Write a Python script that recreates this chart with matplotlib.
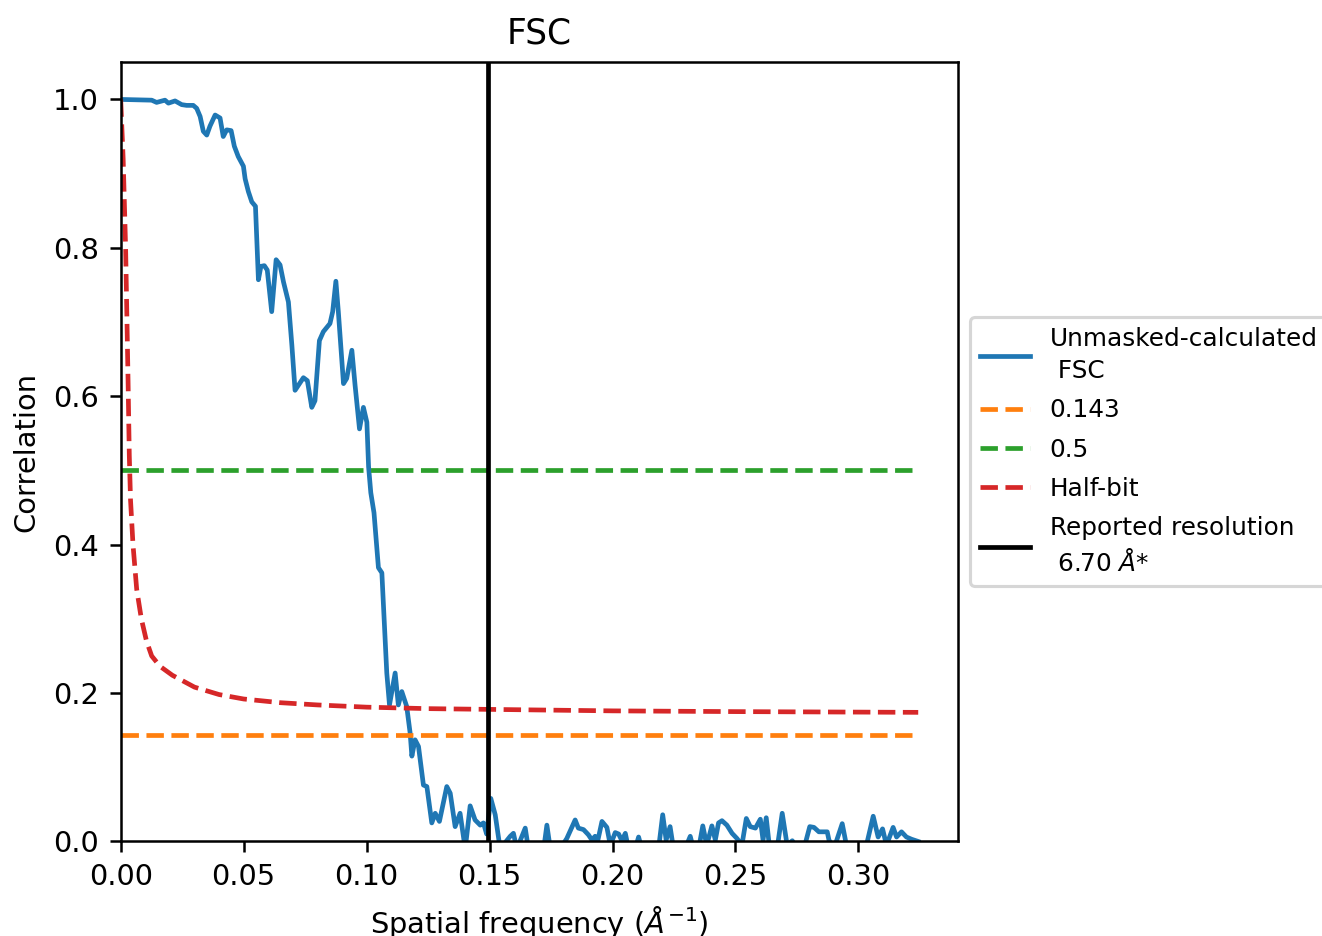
import matplotlib
matplotlib.use("Agg")
import matplotlib.pyplot as plt

# ---- data ----
freq = [0.0, 0.0126, 0.0146, 0.018, 0.0194, 0.0221, 0.0248, 0.0268, 0.0295, 0.0309,
        0.0323, 0.0336, 0.035, 0.0363, 0.0384, 0.0404, 0.0417, 0.0431, 0.0449, 0.0462,
        0.0478, 0.0499, 0.0506, 0.0519, 0.0533, 0.0548, 0.0560, 0.0570, 0.0584, 0.0596,
        0.0614, 0.0632, 0.0648, 0.0662, 0.0682, 0.0696, 0.0709, 0.0723, 0.0743, 0.0759,
        0.0777, 0.0790, 0.0808, 0.0824, 0.0851, 0.0862, 0.0875, 0.0885, 0.0906, 0.0919,
        0.0940, 0.0953, 0.0971, 0.0987, 0.1001, 0.1008, 0.1017, 0.1030, 0.1048, 0.1062,
        0.1082, 0.1093, 0.1116, 0.1129, 0.1143, 0.1163, 0.1177, 0.1184, 0.1197, 0.1211,
        0.1231, 0.1245, 0.1265, 0.1279, 0.1296, 0.1326, 0.1340, 0.1360, 0.1380, 0.1401,
        0.1421, 0.1441, 0.1462, 0.1475, 0.1488, 0.1505, 0.1523, 0.1543, 0.1584, 0.1597,
        0.1611, 0.1645, 0.1658, 0.1720, 0.1733, 0.1747, 0.1787, 0.1814, 0.1848, 0.1861,
        0.1882, 0.1902, 0.1916, 0.1929, 0.1936, 0.1957, 0.1977, 0.1991, 0.2011, 0.2025,
        0.2038, 0.2052, 0.2065, 0.2092, 0.2106, 0.2119, 0.2187, 0.2204, 0.2218, 0.2234,
        0.2248, 0.2295, 0.2316, 0.2329, 0.2350, 0.2367, 0.2383, 0.2404, 0.2418, 0.2431,
        0.2445, 0.2465, 0.2486, 0.2506, 0.2526, 0.2544, 0.2560, 0.2581, 0.2601, 0.2612,
        0.2625, 0.2639, 0.2669, 0.2690, 0.2710, 0.2731, 0.2751, 0.2778, 0.2802, 0.2819,
        0.2839, 0.2873, 0.2880, 0.2900, 0.2934, 0.2954, 0.3029, 0.3060, 0.3080, 0.3098,
        0.3114, 0.3141, 0.3155, 0.3175, 0.3195, 0.3216, 0.3243]

fsc = [1.0, 0.999, 0.996, 0.999, 0.995, 0.998, 0.993, 0.992, 0.992, 0.988,
       0.977, 0.957, 0.952, 0.964, 0.979, 0.975, 0.950, 0.959, 0.958, 0.937,
       0.923, 0.910, 0.893, 0.876, 0.862, 0.856, 0.757, 0.775, 0.776, 0.770,
       0.714, 0.784, 0.777, 0.754, 0.727, 0.669, 0.608, 0.615, 0.625, 0.621,
       0.585, 0.594, 0.675, 0.687, 0.698, 0.714, 0.755, 0.714, 0.617, 0.624,
       0.662, 0.615, 0.556, 0.585, 0.565, 0.505, 0.470, 0.443, 0.369, 0.362,
       0.227, 0.184, 0.227, 0.184, 0.202, 0.182, 0.146, 0.115, 0.137, 0.128,
       0.076, 0.074, 0.025, 0.038, 0.027, 0.074, 0.065, 0.020, 0.038, -0.010,
       0.048, 0.029, 0.022, 0.025, 0.010, 0.058, 0.036, -0.010, 0.007, 0.011,
       -0.010, 0.018, -0.010, -0.010, 0.022, -0.010, -0.010, 0.004, 0.029, 0.018,
       0.016, 0.009, 0.002, 0.007, -0.005, 0.027, 0.019, -0.005, 0.012, 0.010,
       0.001, 0.011, -0.010, -0.010, 0.006, -0.010, -0.010, 0.036, 0.002, 0.020,
       -0.010, -0.010, 0.007, -0.010, -0.010, 0.021, -0.005, 0.021, 0.002, 0.025,
       0.028, 0.022, 0.011, 0.004, -0.005, 0.031, 0.020, 0.018, 0.030, 0.002,
       0.032, -0.010, -0.010, 0.038, -0.005, 0.001, -0.010, -0.010, 0.020, 0.019,
       0.013, 0.013, 0.002, -0.010, 0.024, -0.010, -0.010, 0.034, 0.006, 0.017,
       -0.005, 0.019, 0.006, 0.013, 0.006, 0.003, 0.0]

halfbit_freq = [0.0, 0.001, 0.002, 0.003, 0.0035, 0.004, 0.005, 0.0065, 0.0084, 0.0105,
                0.0126, 0.016, 0.021, 0.03, 0.04, 0.05, 0.065, 0.08, 0.10, 0.125,
                0.15, 0.20, 0.25, 0.3243]
halfbit = [1.0, 0.92, 0.80, 0.62, 0.52, 0.46, 0.40, 0.34, 0.30, 0.27,
           0.25, 0.236, 0.224, 0.208, 0.198, 0.192, 0.187, 0.184, 0.181, 0.179,
           0.178, 0.176, 0.175, 0.174]

threshold_143 = 0.143
threshold_05 = 0.5
resolution = 6.70  # Angstrom

labels = ["Unmasked-calculated\n FSC", "0.143", "0.5", "Half-bit",
          "Reported resolution\n %.2f $\\AA$*" % resolution]

# ---- figure ----
plt.rcParams["font.size"] = 9.2
dpi = 226
fig = plt.figure(figsize=(1322 / dpi, 936 / dpi), dpi=dpi)
ax = fig.add_axes([0.0913, 0.101, 0.6334, 0.8328])

ax.plot(freq, fsc, color="C0", label=labels[0])
ax.plot([freq[0], freq[-1]], [threshold_143, threshold_143], "--", color="C1", label=labels[1])
ax.plot([freq[0], freq[-1]], [threshold_05, threshold_05], "--", color="C2", label=labels[2])
ax.plot(halfbit_freq, halfbit, "--", color="C3", label=labels[3])
ax.axvline(1.0 / resolution, color="black", label=labels[4])

ax.set_xlim(0, 0.3405)
ax.set_ylim(0, 1.0505)
ax.set_title("FSC", fontsize=11)
ax.set_xlabel("Spatial frequency ($\\AA^{-1}$)")
ax.set_ylabel("Correlation")
leg = ax.legend(loc="center left", bbox_to_anchor=(1, 0.5), fontsize=7.9,
                labelspacing=0.61)
for t in leg.get_texts():
    t.set_linespacing(1.44)

fig.savefig("out.png", dpi=dpi)
